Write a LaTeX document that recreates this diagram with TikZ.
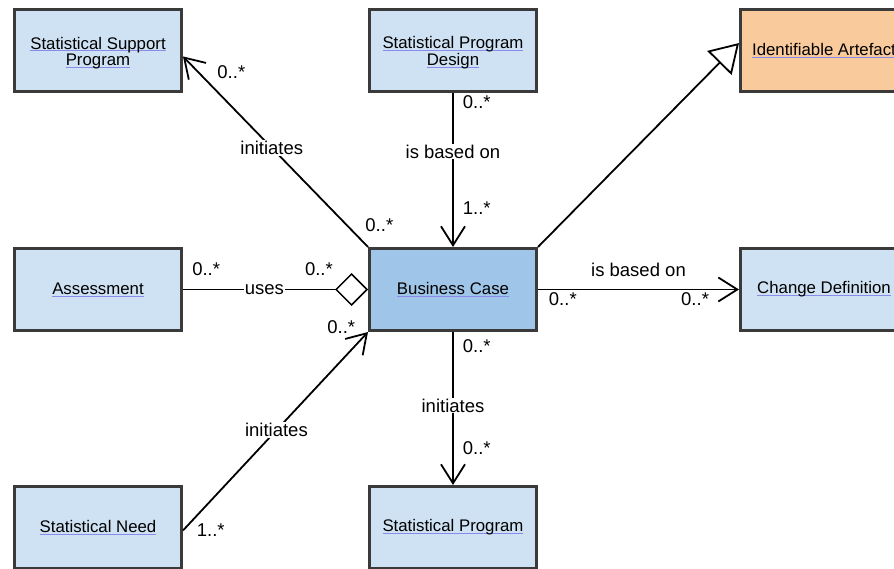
\documentclass[tikz,border=0pt]{standalone}
\usepackage{xcolor}
\usepackage{fontspec}
\setmainfont{Liberation Sans}
\usepackage{tikz}
\usetikzlibrary{arrows.meta}
\definecolor{boxblue}{HTML}{CFE2F3}
\definecolor{casefill}{HTML}{9FC5E8}
\definecolor{artfill}{HTML}{F9CB9C}
\definecolor{boxline}{HTML}{3A3A3A}
\definecolor{linkline}{HTML}{8A8AE8}
\newsavebox\lnkbox
\newcommand\lnk[1]{\sbox\lnkbox{#1}\rlap{\textcolor{linkline}{\rule[-2.3pt]{\wd\lnkbox}{0.9pt}}}\usebox\lnkbox}
\newcommand\twoln[2]{\raisebox{-3pt}[\height][\depth]{\begin{tabular}{@{}c@{}}\lnk{#1}\\\lnk{#2}\end{tabular}}}

\begin{document}
\begin{tikzpicture}[x=1pt,y=-1pt,
	cls/.style={draw=boxline,line width=3pt,fill=boxblue,minimum width=167pt,minimum height=82pt,inner sep=0pt,align=center,font=\fontsize{16.8}{16}\selectfont},
	assoc/.style={black,line width=1.8pt},
	opn/.style={-{Straight Barb[length=19pt,width=24pt]}},
	lbl/.style={font=\fontsize{18.5}{20}\selectfont,inner sep=1pt},
	mult/.style={font=\fontsize{18.5}{20}\selectfont,inner sep=1pt}]
					\useasboundingbox (0,0) rectangle (894,569);
					\node [cls] (ssp) at (98,50.5) {\twoln{Statistical Support}{Program}};
					\node [cls] (spd) at (453,50.5) {\twoln{Statistical Program}{Design}};
					\node [cls,fill=artfill] (art) at (824,50.5) {\lnk{Identifiable Artefact}};
					\node [cls] (asm) at (98,289.5) {\lnk{Assessment}};
					\node [cls,fill=casefill] (bc) at (453,289.5) {\lnk{Business Case}};
					\node [cls] (chg) at (824,289.5) {\lnk{Change Definition}};
					\node [cls] (need) at (98,527.5) {\lnk{Statistical Need}};
					\node [cls] (prog) at (453,527.5) {\lnk{Statistical Program}};
					\draw [assoc, opn] (bc.north west) -- node [lbl,fill=white,pos=0.52] {initiates} node [mult,pos=0.116,right=17pt] {0..*} node [mult,pos=0.916,right=17pt] {0..*} (ssp.-4);
					\draw [assoc, opn] (spd.south) -- node [lbl,fill=white,pos=0.38] {is based on} node [mult,pos=0.06,right=8pt] {0..*} node [mult,pos=0.75,right=8pt] {1..*} (bc.north);
					\draw [assoc, -{Triangle[length=28pt,width=34pt,fill=white]}] (bc.north east) -- (art.175);
					\draw [assoc, -{Diamond[length=33pt,width=33pt,fill=white,line width=1.5pt]}] (asm.east) -- node [lbl,fill=white,pos=0.44] {uses} node [mult,pos=0.04,anchor=south west,yshift=12pt] {0..*} node [mult,pos=0.82,anchor=south east,yshift=12pt] {0..*} (bc.west);
					\draw [assoc, opn] (bc.east) -- node [lbl,pos=0.5,above=11pt] {is based on} node [mult,pos=0.045,anchor=north west,yshift=-1.5pt] {0..*} node [mult,pos=0.86,anchor=north east,yshift=-1.5pt] {0..*} (chg.west);
					\draw [assoc, opn] (bc.south) -- node [lbl,fill=white,pos=0.48] {initiates} node [mult,pos=0.09,right=8pt] {0..*} node [mult,pos=0.76,right=8pt] {0..*} (prog.north);
					\draw [assoc, opn] (need.-2) -- node [lbl,fill=white,pos=0.505] {initiates} node [mult,pos=0,right=12pt] {1..*} node [mult,pos=1,anchor=east,xshift=-11pt,yshift=5pt] {0..*} (bc.south west);
\end{tikzpicture}
\end{document}
